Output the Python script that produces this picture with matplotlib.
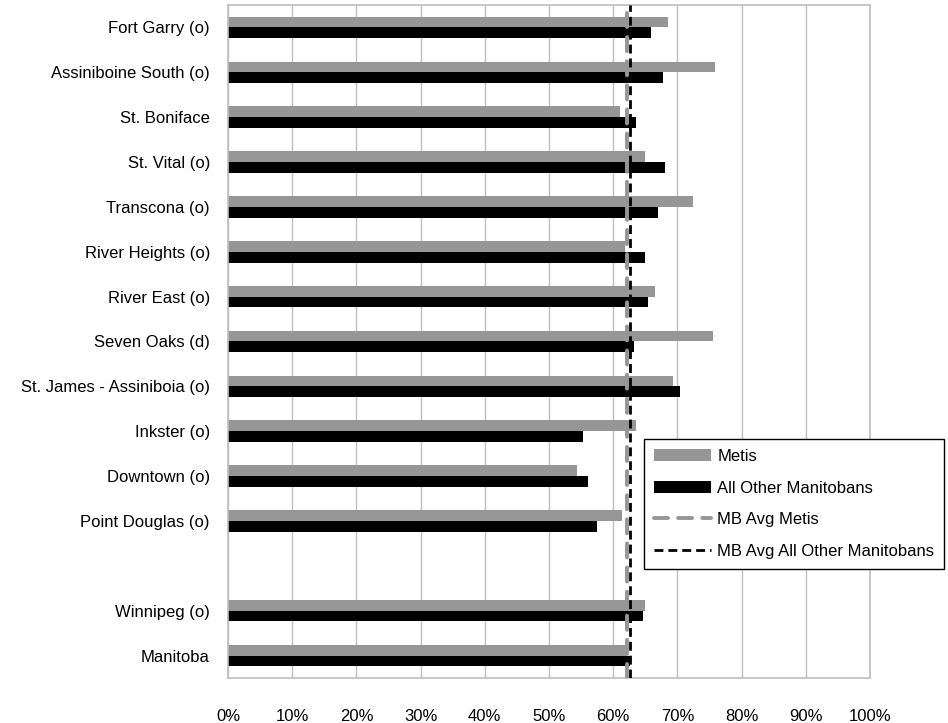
import matplotlib

matplotlib.use("Agg")

import matplotlib.pyplot as plt
import numpy as np

areas = [
    "Fort Garry (o)",
    "Assiniboine South (o)",
    "St. Boniface",
    "St. Vital (o)",
    "Transcona (o)",
    "River Heights (o)",
    "River East (o)",
    "Seven Oaks (d)",
    "St. James - Assiniboia (o)",
    "Inkster (o)",
    "Downtown (o)",
    "Point Douglas (o)",
    "",
    "Winnipeg (o)",
    "Manitoba",
]

# fractions; None = empty spacer row
metis = [0.685, 0.759, 0.610, 0.649, 0.725, 0.618, 0.665, 0.755, 0.693,
         0.636, 0.543, 0.613, None, 0.649, 0.622]
others = [0.659, 0.678, 0.636, 0.681, 0.670, 0.649, 0.654, 0.633, 0.704,
          0.553, 0.561, 0.574, None, 0.646, 0.626]

mb_avg_metis = 0.622
mb_avg_others = 0.626

x_ticks = np.arange(0, 1.01, 0.1)

GRAY = "#969696"
GRID = "#BFBFBF"


def main() -> None:
    plt.rcParams["font.family"] = ["Liberation Sans", "DejaVu Sans"]
    plt.rcParams["font.size"] = 12

    fig = plt.figure(figsize=(9.48, 7.23), dpi=100)
    ax = fig.add_axes([228 / 948, 1 - 678 / 723, 642 / 948, 673 / 723])

    y = np.arange(len(areas))
    h = 0.24
    m_vals = [np.nan if v is None else v for v in metis]
    o_vals = [np.nan if v is None else v for v in others]

    b1 = ax.barh(y - h / 2, m_vals, height=h, color=GRAY, label="Metis", zorder=2)
    b2 = ax.barh(y + h / 2, o_vals, height=h, color="black",
                 label="All Other Manitobans", zorder=2)

    l1 = ax.axvline(mb_avg_metis, color=GRAY, lw=2.8, dashes=(3.6, 2.6),
                    dash_capstyle="round", label="MB Avg Metis", zorder=3)
    l2 = ax.axvline(mb_avg_others, color="black", lw=2.0, dashes=(3.2, 1.8),
                    label="MB Avg All Other Manitobans", zorder=4)

    ax.set_xlim(0, 1)
    ax.set_ylim(len(areas) - 0.5, -0.5)
    ax.set_xticks(x_ticks)
    ax.set_xticklabels([f"{int(round(t * 100))}%" for t in x_ticks])
    ax.set_yticks(y)
    ax.set_yticklabels(areas)
    ax.tick_params(axis="both", length=0)
    ax.tick_params(axis="x", pad=22)
    ax.tick_params(axis="y", pad=13)

    ax.grid(axis="x", color=GRID, lw=1.0, zorder=0)
    ax.set_axisbelow(True)
    for s in ax.spines.values():
        s.set_color(GRID)
        s.set_linewidth(1.2)

    leg = ax.legend(
        handles=[b1, b2, l1, l2],
        loc="upper left",
        bbox_to_anchor=(644 / 948, 1 - 439 / 723),
        bbox_transform=fig.transFigure,
        frameon=True,
        fancybox=False,
        edgecolor="black",
        framealpha=1,
        handlelength=3.4,
        handletextpad=0.4,
        labelspacing=1.0,
        borderpad=0.6,
        borderaxespad=0,
        fontsize=12,
    )
    leg.get_frame().set_linewidth(1.0)
    leg.set_zorder(10)

    fig.savefig("out.png", dpi=100)


if __name__ == "__main__":
    main()
